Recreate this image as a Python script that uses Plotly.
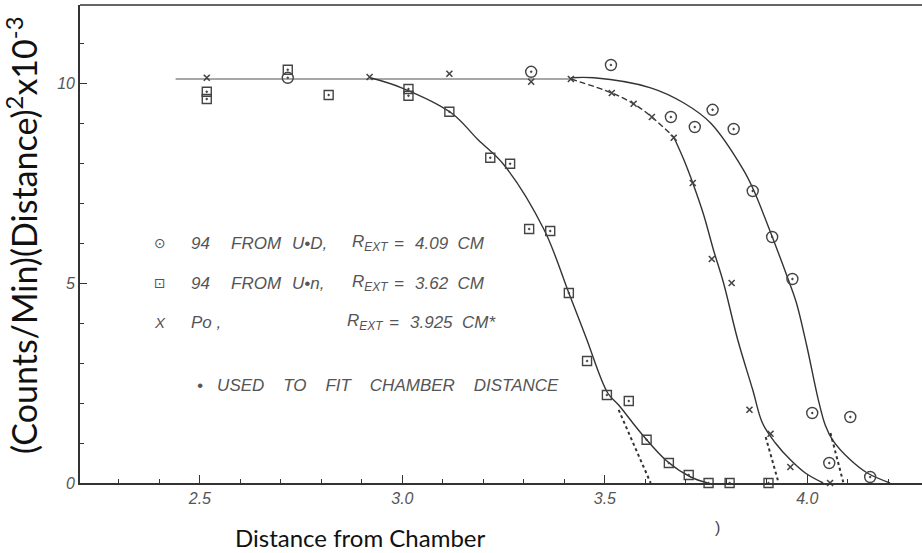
import plotly.graph_objects as go

# ---- data ----
# 94 from U+D (circles)
ud_x = [2.717, 3.318, 3.515, 3.663, 3.722, 3.766, 3.818, 3.865, 3.913, 3.963, 4.012, 4.054, 4.106, 4.155]
ud_y = [10.13, 10.28, 10.45, 9.15, 8.9, 9.33, 8.85, 7.3, 6.15, 5.1, 1.75, 0.5, 1.65, 0.15]

# 94 from U+n (squares)
un_x = [2.517, 2.517, 2.717, 2.818, 3.015, 3.015, 3.116, 3.217, 3.266, 3.313, 3.365, 3.411,
        3.456, 3.505, 3.559, 3.603, 3.658, 3.707, 3.756, 3.808, 3.904]
un_y = [9.78, 9.6, 10.33, 9.7, 9.85, 9.68, 9.28, 8.13, 7.98, 6.35, 6.3, 4.75,
        3.05, 2.2, 2.05, 1.08, 0.5, 0.2, 0.0, 0.0, 0.0]

# Po (crosses)
po_x = [2.517, 2.919, 3.116, 3.318, 3.416, 3.517, 3.571, 3.616, 3.670, 3.717, 3.764, 3.813,
        3.857, 3.909, 3.958, 4.056]
po_y = [10.13, 10.15, 10.23, 10.03, 10.1, 9.75, 9.48, 9.15, 8.63, 7.5, 5.6, 5.0,
        1.83, 1.23, 0.4, 0.0]

# hand-drawn curves
flat_x = [2.44, 3.42]
flat_y = [10.1, 10.1]

un_fit_x = [2.921, 2.998, 3.121, 3.187, 3.251, 3.350, 3.411, 3.453, 3.507, 3.534, 3.589, 3.655, 3.712, 3.754]
un_fit_y = [10.13, 9.88, 9.25, 8.58, 7.95, 6.33, 4.75, 3.65, 2.25, 1.95, 1.25, 0.53, 0.15, 0.0]
un_dot_x = [3.534, 3.613]
un_dot_y = [1.83, 0.0]

po_dash_x = [3.416, 3.517, 3.571, 3.616, 3.670]
po_dash_y = [10.1, 9.75, 9.48, 9.15, 8.65]
po_fit_x = [3.670, 3.695, 3.717, 3.744, 3.768, 3.793, 3.828, 3.865, 3.889, 3.921, 3.958, 3.995, 4.039]
po_fit_y = [8.65, 8.08, 7.5, 6.7, 5.83, 5.0, 3.58, 2.33, 1.5, 1.0, 0.58, 0.25, 0.0]
po_dot_x = [3.897, 3.929]
po_dot_y = [1.15, 0.0]

ud_fit_x = [3.416, 3.473, 3.613, 3.695, 3.761, 3.842, 3.867, 3.916, 3.953, 3.973, 3.998, 4.027, 4.044, 4.062, 4.106, 4.148, 4.204]
ud_fit_y = [10.13, 10.13, 9.88, 9.5, 9.0, 7.83, 7.33, 6.08, 5.08, 4.5, 3.45, 2.08, 1.45, 1.08, 0.58, 0.25, 0.0]
ud_dot_x = [4.057, 4.089]
ud_dot_y = [1.25, 0.0]

x_tickvals = [2.5, 3.0, 3.5, 4.0]
x_ticktext = ["2.5", "3.0", "3.5", "4.0"]
y_tickvals = [0, 5, 10]
y_ticktext = ["0", "5", "10"]

x_title = "Distance from Chamber"
y_title = "(Counts/Min)(Distance)<sup>2</sup>x10<sup>-3</sup>"

INK = "#333333"
HAND = "Liberation Sans"

fig = go.Figure()


def line(x, y, color=INK, width=1.4, dash="solid", shape="spline"):
    fig.add_trace(go.Scatter(x=x, y=y, mode="lines", showlegend=False, hoverinfo="skip",
                             line=dict(color=color, width=width, dash=dash, shape=shape, smoothing=1.0),
                             cliponaxis=False))


line(flat_x, flat_y, color="#8a8a8a", width=1.6, shape="linear")
line(un_fit_x, un_fit_y)
line(un_dot_x, un_dot_y, dash="dot", width=2, shape="linear")
line(po_dash_x, po_dash_y, dash="6px,3px", shape="spline")
line(po_fit_x, po_fit_y)
line(po_dot_x, po_dot_y, dash="dot", width=2, shape="linear")
line(ud_fit_x, ud_fit_y)
line(ud_dot_x, ud_dot_y, dash="dot", width=2, shape="linear")

fig.add_trace(go.Scatter(x=ud_x, y=ud_y, mode="markers", showlegend=False, cliponaxis=False,
                         marker=dict(symbol="circle-open-dot", size=11, color="#444",
                                     line=dict(color="#444", width=1.4))))
fig.add_trace(go.Scatter(x=un_x, y=un_y, mode="markers", showlegend=False, cliponaxis=False,
                         marker=dict(symbol="square-open-dot", size=9, color="#444",
                                     line=dict(color="#444", width=1.4))))
fig.add_trace(go.Scatter(x=po_x, y=po_y, mode="markers", showlegend=False, cliponaxis=False,
                         marker=dict(symbol="x-thin-open", size=6, color="#444",
                                     line=dict(color="#444", width=1.6))))

L, T, W, H = 80, 5, 842, 478  # plot area in px


def px(x):
    return (x - L) / W


def py(y):
    return (T + H - y) / H


def note(x, y, text, size=17, xanchor="left", italic=True, color="#555", family=HAND, angle=0):
    fig.add_annotation(x=px(x), y=py(y), xref="paper", yref="paper", text=text, showarrow=False,
                       xanchor=xanchor, yanchor="middle", textangle=angle,
                       font=dict(size=size, color=color, family=family,
                                 style="italic" if italic else "normal"))


# legend written on the chart
R = "R<sub>EXT</sub>"
note(160, 243, "⊙", size=14, xanchor="center", italic=False, family="DejaVu Sans")
note(160, 283, "⊡", size=14, xanchor="center", italic=False, family="DejaVu Sans")
note(160, 322, "X", size=15, xanchor="center")
for y, src, val in [(243, "U•D,", "4.09  CM"), (283, "U•n,", "3.62  CM")]:
    note(189, y, "94")
    note(229, y, "FROM")
    note(290, y, src)
    note(350, y, R)
    note(392, y, "=")
    note(413, y, val)
note(189, 322, "Po ,")
note(345, 322, R)
note(387, 322, "=")
note(408, 322, "3.925  CM*")
note(195, 385, "•   USED    TO    FIT    CHAMBER    DISTANCE", size=17)
note(713, 527, ")", size=16, italic=False, color="#444")

# axis titles
note(360, 537, x_title, size=24, xanchor="center", italic=False, color="#111", family="Lato")
note(22, 236, y_title, size=34, xanchor="center", italic=False, color="#111", family="Lato", angle=-90)

fig.update_layout(
    width=922, height=553,
    margin=dict(l=L, r=0, t=T, b=553 - T - H, pad=0),
    paper_bgcolor="white", plot_bgcolor="white",
    showlegend=False,
    xaxis=dict(range=[2.204, 4.283], showgrid=False, zeroline=False, automargin=False,
               showline=True, linecolor=INK, linewidth=1.6,
               tickvals=x_tickvals, ticktext=x_ticktext,
               ticks="inside", ticklen=8, tickcolor=INK, tickwidth=1.2,
               minor=dict(dtick=0.1, tick0=2.5, ticks="inside", ticklen=4, tickcolor=INK, tickwidth=1),
               tickfont=dict(family=HAND, size=16, color="#555", style="italic")),
    yaxis=dict(range=[0, 11.95], showgrid=False, zeroline=False, automargin=False,
               showline=True, linecolor=INK, linewidth=1.6,
               tickvals=y_tickvals, ticktext=y_ticktext,
               ticks="inside", ticklen=7, tickcolor=INK, tickwidth=1.2,
               minor=dict(dtick=1, ticks="inside", ticklen=4, tickcolor=INK, tickwidth=1),
               tickfont=dict(family=HAND, size=16, color="#555", style="italic")),
)

# top border of the frame
fig.add_shape(type="line", xref="paper", yref="paper", x0=0, x1=1, y0=1, y1=1,
              line=dict(color=INK, width=1.6))

fig.write_html("out.html", config={"displayModeBar": False},
               post_script="document.body.style.margin='0px';document.body.style.overflow='hidden';")
